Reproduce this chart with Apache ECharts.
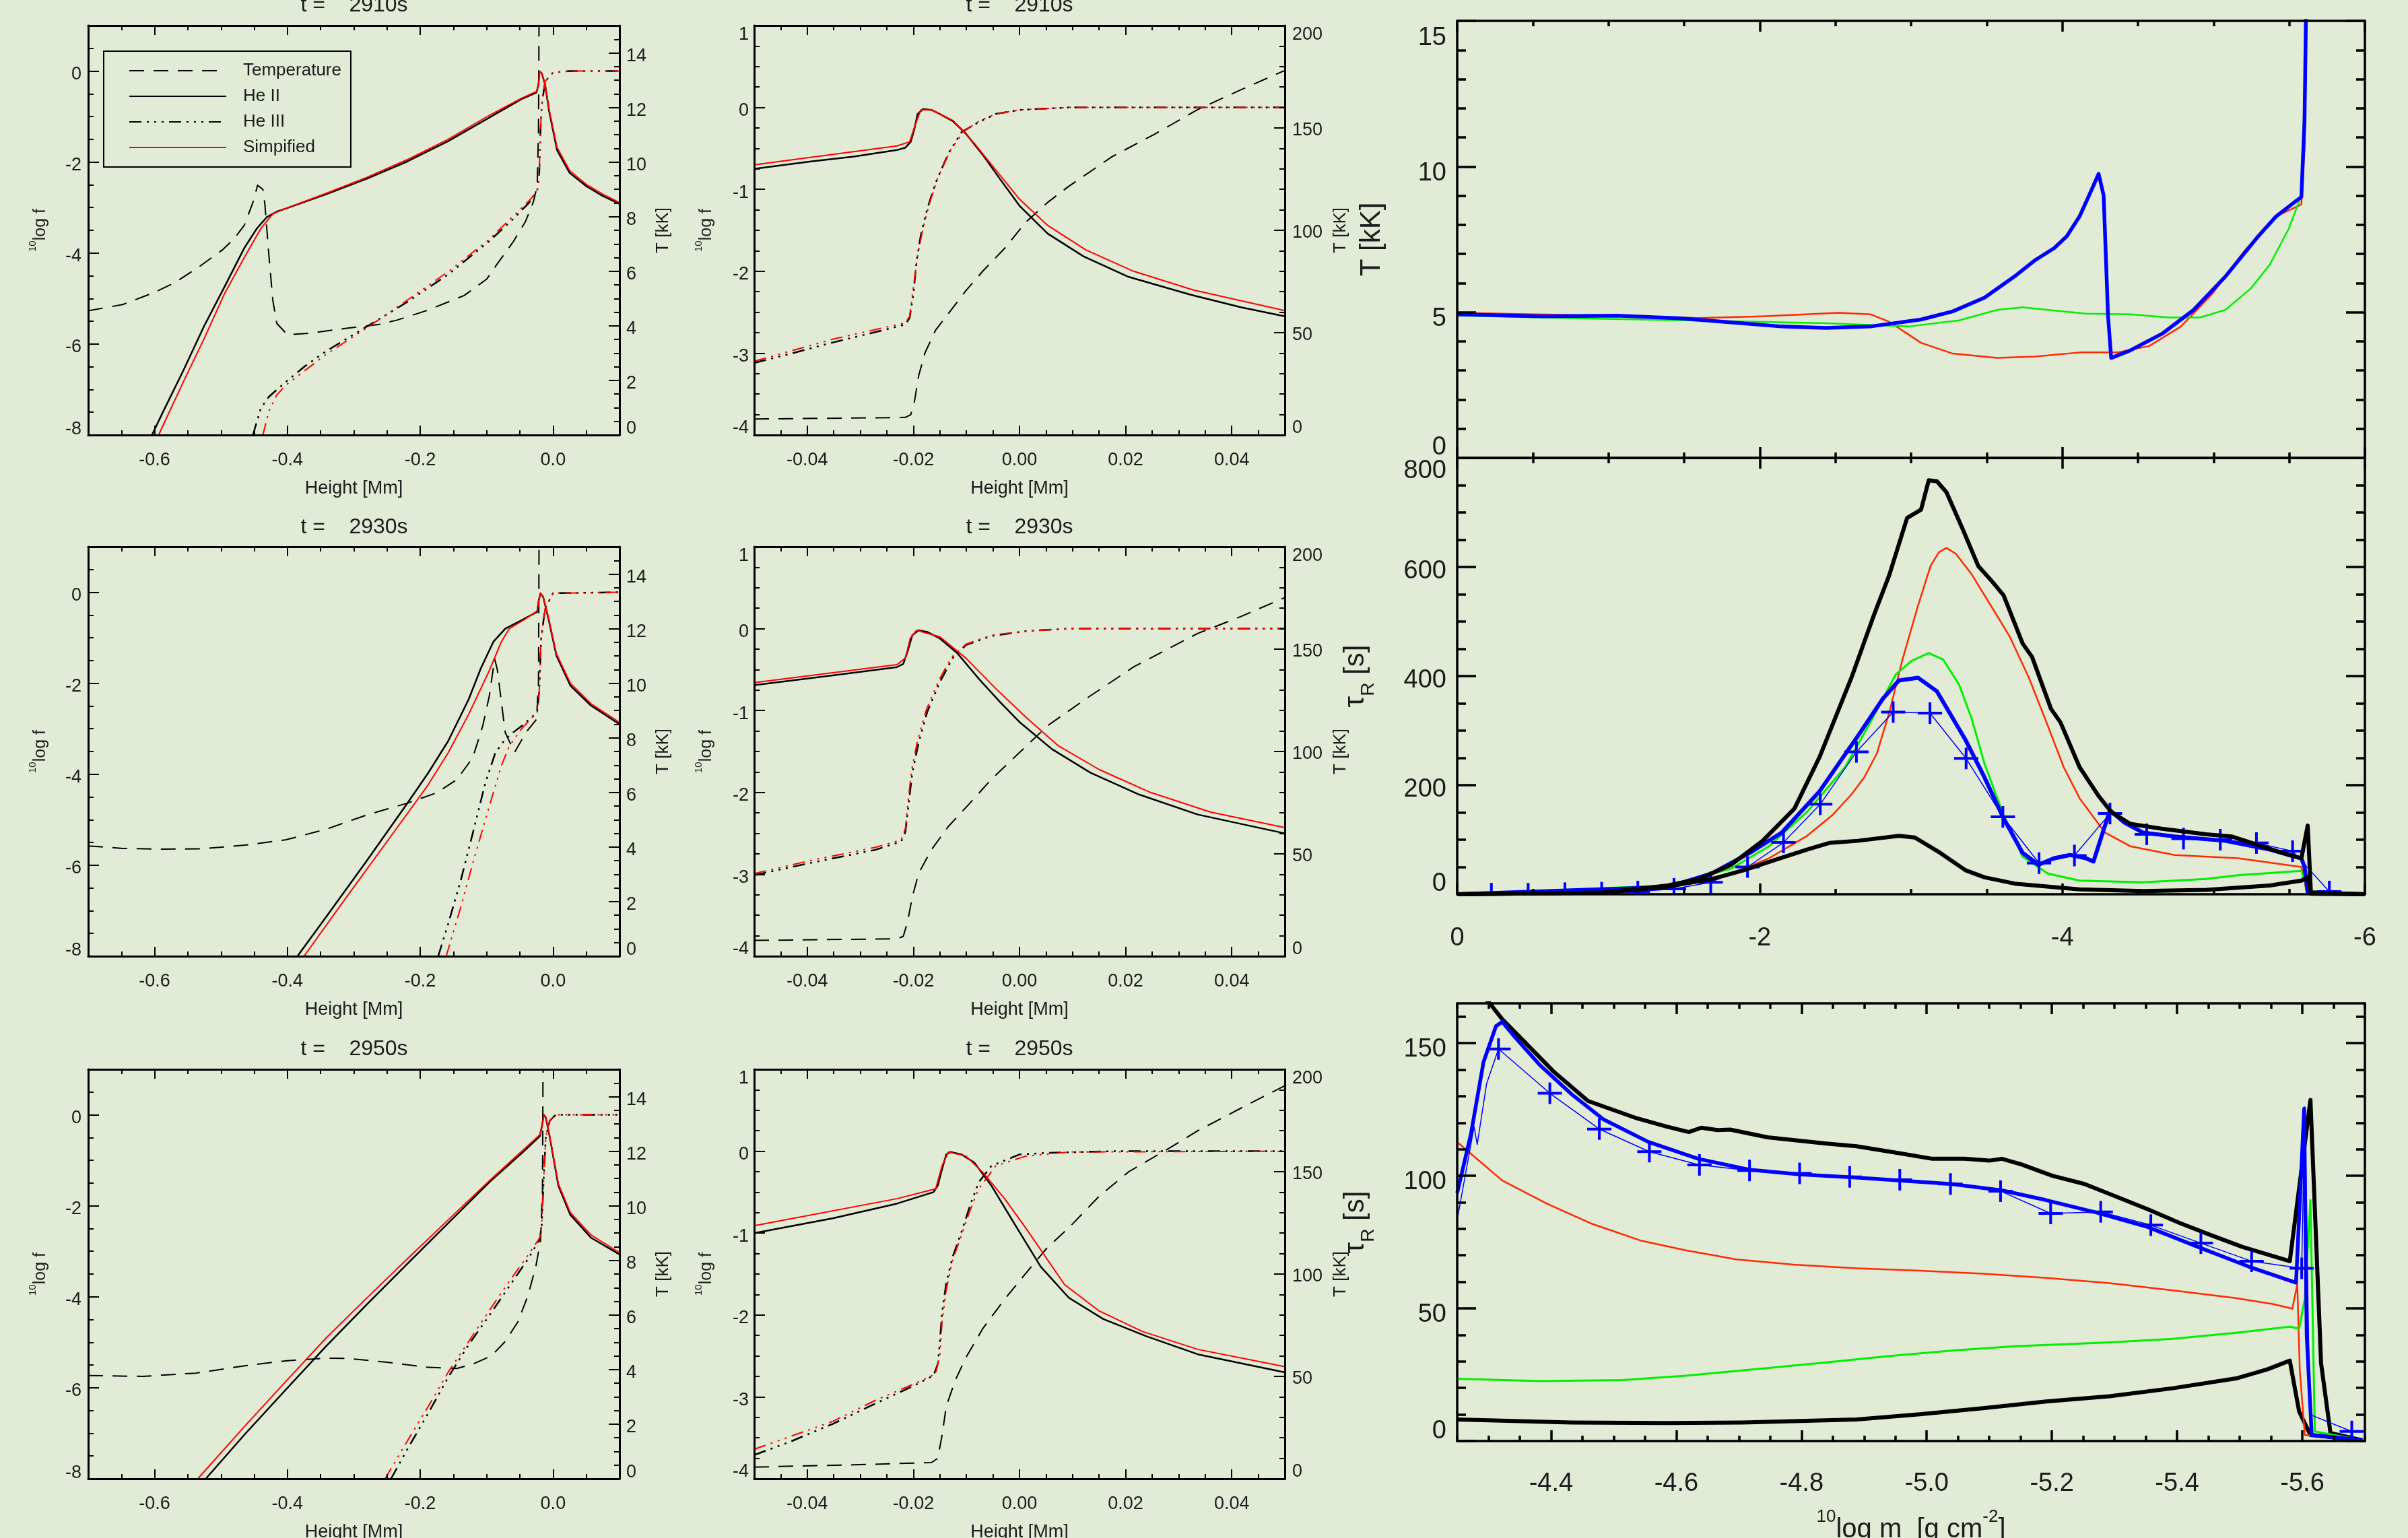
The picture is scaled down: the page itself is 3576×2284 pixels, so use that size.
<!DOCTYPE html>
<html><head><meta charset="utf-8">
<script src="https://cdn.jsdelivr.net/npm/echarts@6/dist/echarts.min.js"></script>
<style>html,body{margin:0;padding:0;background:#e1ebd6;}#c{width:3576px;height:2284px;}</style>
</head><body><div id="c"></div>
<script>
// ---------------- DATA ----------------
const titles = ['t =    2910s', 't =    2930s', 't =    2950s'];
const legendNames = ['Temperature', 'He II', 'He III', 'Simpified'];

// Left column (Height -0.7..0.1 Mm): [height, value]
const T_2910_L = [[-0.70,4.55],[-0.648,4.78],[-0.60,5.23],[-0.569,5.59],[-0.532,6.18],[-0.498,6.78],[-0.48,7.2],[-0.465,7.68],[-0.452,8.52],[-0.445,9.15],[-0.437,9.0],[-0.434,8.46],[-0.428,6.6],[-0.422,4.93],[-0.416,4.09],[-0.40,3.67],[-0.367,3.73],[-0.311,3.91],[-0.262,4.05],[-0.235,4.21],[-0.189,4.57],[-0.134,5.11],[-0.10,5.71],[-0.085,6.24],[-0.06,7.08],[-0.042,7.8],[-0.03,8.52],[-0.024,9.11],[-0.022,11.1],[-0.021,16],[-0.02,30]];
const HeII_2910_L = [[-0.604,-8],[-0.587,-7.48],[-0.557,-6.59],[-0.526,-5.62],[-0.495,-4.75],[-0.465,-3.89],[-0.446,-3.46],[-0.431,-3.21],[-0.416,-3.09],[-0.40,-3.01],[-0.342,-2.71],[-0.281,-2.37],[-0.22,-1.99],[-0.158,-1.54],[-0.097,-1.03],[-0.048,-0.62],[-0.025,-0.47],[-0.022,-0.30],[-0.0205,-0.01],[-0.017,-0.05],[-0.012,-0.30],[-0.006,-0.88],[0.006,-1.74],[0.025,-2.24],[0.05,-2.53],[0.074,-2.74],[0.10,-2.92]];
const HeIIs_2910_L = [[-0.594,-8],[-0.557,-6.84],[-0.526,-5.9],[-0.495,-4.9],[-0.465,-4.1],[-0.44,-3.46],[-0.422,-3.14],[-0.403,-3.02],[-0.342,-2.69],[-0.281,-2.34],[-0.22,-1.95],[-0.158,-1.5],[-0.097,-0.98],[-0.048,-0.6],[-0.025,-0.45],[-0.022,-0.3],[-0.0205,-0.01],[-0.017,-0.05],[-0.012,-0.28],[-0.006,-0.84],[0.006,-1.68],[0.025,-2.19],[0.05,-2.49],[0.074,-2.70],[0.10,-2.89]];
const HeIII_2910_L = [[-0.452,-8],[-0.44,-7.41],[-0.428,-7.16],[-0.403,-6.84],[-0.373,-6.48],[-0.342,-6.16],[-0.281,-5.62],[-0.22,-5.08],[-0.158,-4.47],[-0.097,-3.75],[-0.06,-3.25],[-0.036,-2.89],[-0.024,-2.64],[-0.021,-2.31],[-0.019,-1.31],[-0.017,-0.73],[-0.012,-0.23],[0.0,-0.03],[0.025,0],[0.10,0]];
const HeIIIs_2910_L = [[-0.437,-8],[-0.428,-7.48],[-0.416,-7.12],[-0.403,-6.91],[-0.342,-6.23],[-0.281,-5.65],[-0.22,-5.04],[-0.158,-4.41],[-0.097,-3.71],[-0.036,-2.85],[-0.024,-2.64],[-0.021,-2.31],[-0.019,-1.31],[-0.017,-0.73],[-0.012,-0.23],[0.0,-0.03],[0.025,0],[0.10,0]];

const T_2930_L = [[-0.70,4.04],[-0.648,3.95],[-0.587,3.92],[-0.526,3.94],[-0.464,4.07],[-0.403,4.26],[-0.342,4.65],[-0.28,5.18],[-0.219,5.61],[-0.176,5.98],[-0.145,6.47],[-0.121,7.27],[-0.106,8.43],[-0.096,9.54],[-0.088,10.9],[-0.084,10.5],[-0.072,8.19],[-0.058,7.47],[-0.041,8.19],[-0.025,8.68],[-0.022,10],[-0.021,16],[-0.02,30]];
const HeII_2930_L = [[-0.385,-8],[-0.342,-7.14],[-0.28,-5.89],[-0.219,-4.63],[-0.188,-3.97],[-0.158,-3.27],[-0.127,-2.35],[-0.109,-1.68],[-0.09,-1.09],[-0.072,-0.80],[-0.047,-0.61],[-0.024,-0.43],[-0.022,-0.21],[-0.019,-0.02],[-0.015,-0.10],[-0.007,-0.58],[0.005,-1.39],[0.026,-2.05],[0.057,-2.49],[0.10,-2.9]];
const HeIIs_2930_L = [[-0.375,-8],[-0.311,-6.7],[-0.25,-5.48],[-0.188,-4.23],[-0.158,-3.53],[-0.127,-2.68],[-0.096,-1.72],[-0.078,-1.09],[-0.066,-0.8],[-0.041,-0.58],[-0.024,-0.41],[-0.022,-0.21],[-0.019,-0.02],[-0.015,-0.10],[-0.007,-0.55],[0.005,-1.35],[0.026,-2.0],[0.057,-2.45],[0.10,-2.86]];
const HeIII_2930_L = [[-0.173,-8],[-0.158,-7.29],[-0.139,-6.33],[-0.121,-5.3],[-0.102,-4.19],[-0.087,-3.53],[-0.072,-3.23],[-0.06,-3.08],[-0.044,-2.9],[-0.024,-2.64],[-0.021,-2.2],[-0.018,-1.02],[-0.012,-0.35],[0.0,-0.02],[0.1,0]];
const HeIIIs_2930_L = [[-0.161,-8],[-0.139,-6.92],[-0.121,-5.96],[-0.096,-4.7],[-0.078,-3.82],[-0.066,-3.38],[-0.047,-2.99],[-0.024,-2.64],[-0.021,-2.2],[-0.018,-1.02],[-0.012,-0.35],[0.0,-0.02],[0.1,0]];

const T_2950_L = [[-0.70,3.78],[-0.618,3.75],[-0.538,3.87],[-0.464,4.14],[-0.403,4.32],[-0.342,4.42],[-0.311,4.41],[-0.25,4.27],[-0.188,4.08],[-0.145,4.04],[-0.121,4.2],[-0.093,4.5],[-0.072,5.03],[-0.053,5.75],[-0.038,6.7],[-0.026,7.77],[-0.019,8.72],[-0.016,10.5],[-0.015,16],[-0.014,30]];
const HeII_2950_L = [[-0.523,-8],[-0.464,-7.02],[-0.403,-6.05],[-0.342,-5.09],[-0.28,-4.16],[-0.219,-3.27],[-0.158,-2.38],[-0.096,-1.48],[-0.047,-0.84],[-0.02,-0.47],[-0.017,-0.27],[-0.014,0],[-0.011,-0.06],[-0.005,-0.49],[0.008,-1.56],[0.026,-2.2],[0.057,-2.7],[0.10,-3.07]];
const HeIIs_2950_L = [[-0.535,-8],[-0.464,-6.84],[-0.403,-5.87],[-0.342,-4.91],[-0.28,-4.02],[-0.219,-3.16],[-0.158,-2.31],[-0.096,-1.45],[-0.02,-0.44],[-0.017,-0.26],[-0.014,0],[-0.011,-0.06],[-0.005,-0.47],[0.008,-1.52],[0.026,-2.15],[0.057,-2.64],[0.10,-3.03]];
const HeIII_2950_L = [[-0.244,-8],[-0.219,-7.34],[-0.188,-6.56],[-0.158,-5.77],[-0.127,-5.05],[-0.096,-4.41],[-0.066,-3.77],[-0.036,-3.13],[-0.02,-2.73],[-0.017,-2.41],[-0.014,-1.34],[-0.011,-0.49],[-0.005,-0.13],[0.004,0],[0.10,0]];
const HeIIIs_2950_L = [[-0.253,-8],[-0.219,-7.16],[-0.188,-6.41],[-0.158,-5.66],[-0.127,-4.98],[-0.096,-4.3],[-0.066,-3.66],[-0.036,-3.05],[-0.02,-2.7],[-0.017,-2.41],[-0.014,-1.34],[-0.011,-0.49],[-0.005,-0.13],[0.004,0],[0.10,0]];

// Middle column (Height -0.05..0.05 Mm)
const T_2910_M = [[-0.05,7.8],[-0.0312,8.3],[-0.0215,8.6],[-0.0205,9.9],[-0.0198,16.3],[-0.019,29],[-0.0178,40.2],[-0.0158,51.3],[-0.0134,59.3],[-0.0101,70.5],[-0.0069,80.1],[-0.0028,91.2],[0.0012,104],[0.0053,113.6],[0.0093,121.5],[0.0174,135.9],[0.0255,147],[0.0336,159],[0.0417,168.6],[0.05,178.1]];
const HeII_2910_M = [[-0.05,-0.75],[-0.0393,-0.66],[-0.0312,-0.60],[-0.0231,-0.52],[-0.0215,-0.49],[-0.0205,-0.42],[-0.0198,-0.26],[-0.0192,-0.08],[-0.0182,-0.02],[-0.0166,-0.03],[-0.015,-0.08],[-0.0125,-0.17],[-0.0101,-0.32],[-0.0069,-0.58],[-0.0036,-0.88],[0.0,-1.2],[0.0053,-1.54],[0.0121,-1.82],[0.0206,-2.07],[0.0324,-2.29],[0.0417,-2.44],[0.05,-2.55]];
const HeIIs_2910_M = [[-0.05,-0.70],[-0.0231,-0.47],[-0.0207,-0.42],[-0.0198,-0.24],[-0.0186,-0.03],[-0.0166,-0.03],[-0.0125,-0.16],[-0.0085,-0.44],[-0.0045,-0.76],[0.0,-1.12],[0.0053,-1.44],[0.0125,-1.74],[0.0215,-2.0],[0.0328,-2.23],[0.05,-2.48]];
const HeIII_2910_M = [[-0.05,-3.12],[-0.0433,-3.01],[-0.0352,-2.87],[-0.0263,-2.73],[-0.0215,-2.65],[-0.0207,-2.57],[-0.02,-2.28],[-0.0194,-1.88],[-0.0186,-1.56],[-0.0174,-1.24],[-0.0158,-0.92],[-0.0134,-0.56],[-0.0109,-0.30],[-0.0077,-0.18],[-0.0045,-0.08],[0.0,-0.03],[0.0093,0],[0.05,0]];
const HeIIIs_2910_M = [[-0.05,-3.10],[-0.0352,-2.83],[-0.0215,-2.63],[-0.0207,-2.55],[-0.02,-2.2],[-0.0192,-1.8],[-0.0182,-1.48],[-0.017,-1.18],[-0.0154,-0.86],[-0.013,-0.52],[-0.0105,-0.29],[-0.0077,-0.17],[-0.0045,-0.08],[0.0,-0.03],[0.0093,0],[0.05,0]];

const T_2930_M = [[-0.05,7.7],[-0.0231,8.5],[-0.0219,9.7],[-0.0211,16.7],[-0.0202,29],[-0.019,40.5],[-0.0166,52],[-0.0134,63.4],[-0.0093,74.9],[-0.0053,86.4],[0.0,99.5],[0.0053,112.6],[0.0125,125.7],[0.0215,141.3],[0.0336,157.7],[0.0417,165.9],[0.05,175.2]];
const HeII_2930_M = [[-0.05,-0.69],[-0.0352,-0.57],[-0.0231,-0.47],[-0.0219,-0.43],[-0.0211,-0.28],[-0.0202,-0.08],[-0.019,-0.02],[-0.0174,-0.04],[-0.015,-0.12],[-0.0117,-0.30],[-0.0077,-0.61],[-0.0036,-0.90],[0.0,-1.14],[0.0061,-1.47],[0.0134,-1.76],[0.0223,-2.02],[0.0336,-2.27],[0.05,-2.5]];
const HeIIs_2930_M = [[-0.05,-0.66],[-0.0231,-0.44],[-0.0215,-0.36],[-0.0206,-0.12],[-0.0194,-0.02],[-0.015,-0.10],[-0.0101,-0.36],[-0.0045,-0.73],[0.0012,-1.08],[0.0073,-1.43],[0.015,-1.72],[0.0247,-2.0],[0.036,-2.24],[0.05,-2.43]];
const HeIII_2930_M = [[-0.05,-3.01],[-0.0393,-2.86],[-0.0271,-2.70],[-0.0223,-2.60],[-0.0215,-2.48],[-0.0208,-2.09],[-0.0202,-1.76],[-0.019,-1.39],[-0.0174,-1.02],[-0.015,-0.65],[-0.0126,-0.36],[-0.0101,-0.20],[-0.0053,-0.09],[0.0012,-0.03],[0.0093,0],[0.05,0]];
const HeIIIs_2930_M = [[-0.05,-2.99],[-0.0393,-2.83],[-0.0271,-2.67],[-0.0223,-2.58],[-0.0215,-2.44],[-0.0209,-2.05],[-0.0203,-1.72],[-0.0192,-1.36],[-0.0176,-1.0],[-0.0152,-0.63],[-0.0128,-0.35],[-0.0101,-0.19],[-0.0053,-0.08],[0.0012,-0.03],[0.0093,0],[0.05,0]];

const T_2950_M = [[-0.05,5.7],[-0.0312,6.8],[-0.0166,7.9],[-0.0154,10],[-0.0146,21.1],[-0.0138,35.4],[-0.0121,48.1],[-0.0101,59.2],[-0.0069,73.4],[-0.0028,87.7],[0.0012,100.4],[0.0053,113.1],[0.0093,122.6],[0.015,138],[0.0206,150],[0.0279,161],[0.0336,170],[0.0417,181],[0.05,192]];
const HeII_2950_M = [[-0.05,-1.0],[-0.0352,-0.82],[-0.0231,-0.64],[-0.0162,-0.50],[-0.0154,-0.42],[-0.0146,-0.22],[-0.0138,-0.04],[-0.013,-0.01],[-0.0109,-0.04],[-0.0085,-0.14],[-0.0053,-0.42],[-0.0012,-0.86],[0.004,-1.41],[0.0093,-1.79],[0.0158,-2.05],[0.0239,-2.26],[0.0336,-2.48],[0.05,-2.7]];
const HeIIs_2950_M = [[-0.05,-0.91],[-0.0231,-0.58],[-0.0158,-0.46],[-0.0146,-0.18],[-0.0134,-0.01],[-0.0101,-0.06],[-0.0069,-0.26],[-0.0028,-0.58],[0.0012,-0.94],[0.0085,-1.63],[0.015,-1.95],[0.0231,-2.2],[0.0336,-2.42],[0.05,-2.63]];
const HeIII_2950_M = [[-0.05,-3.71],[-0.0433,-3.55],[-0.0352,-3.33],[-0.0271,-3.08],[-0.0198,-2.86],[-0.0162,-2.74],[-0.0154,-2.6],[-0.015,-2.32],[-0.0146,-1.97],[-0.0138,-1.61],[-0.0126,-1.29],[-0.0109,-0.98],[-0.0093,-0.66],[-0.0077,-0.38],[-0.0053,-0.18],[0.0,-0.04],[0.0053,-0.02],[0.0174,0],[0.05,0]];
const HeIIIs_2950_M = [[-0.05,-3.64],[-0.0352,-3.3],[-0.0271,-3.04],[-0.0198,-2.84],[-0.0158,-2.72],[-0.015,-2.48],[-0.0146,-2.09],[-0.0138,-1.69],[-0.0126,-1.33],[-0.0109,-1.02],[-0.0093,-0.72],[-0.0077,-0.46],[-0.0045,-0.18],[0.0012,-0.06],[0.0093,-0.01],[0.05,0]];

// Right column: [log m, value]
const Tm_red = [[0,4.98],[-0.972,4.88],[-1.6,4.8],[-2.02,4.86],[-2.52,4.98],[-2.73,4.93],[-2.857,4.67],[-3.066,3.95],[-3.276,3.58],[-3.569,3.43],[-3.821,3.48],[-4.114,3.62],[-4.365,3.62],[-4.574,3.84],[-4.784,4.51],[-4.994,5.65],[-5.203,7.1],[-5.413,8.29],[-5.58,8.7],[-5.601,10.6],[-5.614,15],[-5.62,20]];
const Tm_green = [[0,4.88],[-0.972,4.77],[-1.81,4.69],[-2.438,4.62],[-2.983,4.51],[-3.318,4.72],[-3.569,5.08],[-3.737,5.17],[-3.904,5.08],[-4.156,4.95],[-4.449,4.93],[-4.7,4.82],[-4.91,4.82],[-5.077,5.08],[-5.245,5.81],[-5.371,6.63],[-5.497,7.87],[-5.58,9.01],[-5.614,15],[-5.62,20]];
const Tm_blue = [[0,4.93],[-0.553,4.86],[-1.056,4.88],[-1.475,4.79],[-1.81,4.65],[-2.145,4.51],[-2.438,4.46],[-2.73,4.51],[-3.066,4.75],[-3.276,5.03],[-3.486,5.5],[-3.695,6.27],[-3.821,6.79],[-3.946,7.2],[-4.03,7.61],[-4.114,8.29],[-4.177,9.01],[-4.24,9.75],[-4.273,9.01],[-4.302,4.88],[-4.323,3.43],[-4.449,3.69],[-4.659,4.26],[-4.868,5.08],[-5.077,6.22],[-5.287,7.56],[-5.413,8.29],[-5.58,8.96],[-5.601,11.6],[-5.61,15],[-5.615,20]];

const tau_black_hi = [[0,0],[-0.972,3],[-1.391,16],[-1.6,28],[-1.81,54],[-2.019,98],[-2.229,157],[-2.396,252],[-2.606,397],[-2.752,510],[-2.857,586],[-2.974,690],[-3.066,705],[-3.117,759],[-3.171,757],[-3.234,737],[-3.339,671],[-3.444,602],[-3.528,576],[-3.612,548],[-3.737,460],[-3.8,435],[-3.925,340],[-3.988,315],[-4.114,233],[-4.24,180],[-4.323,151],[-4.449,129],[-4.659,120],[-4.952,110],[-5.119,106],[-5.287,91],[-5.497,72],[-5.58,66],[-5.622,126],[-5.643,3],[-6,0]];
const tau_black_lo = [[0,0],[-0.972,3],[-1.391,14],[-1.684,28],[-1.894,44],[-2.103,63],[-2.313,82],[-2.459,94],[-2.648,98],[-2.92,107],[-3.025,104],[-3.192,76],[-3.36,44],[-3.486,31],[-3.695,19],[-4.114,9],[-4.533,6],[-4.952,8],[-5.371,16],[-5.58,25],[-5.622,31],[-5.643,1],[-6,0]];
const tau_red = [[0,0],[-1.391,13],[-1.81,38],[-2.061,66],[-2.313,107],[-2.48,145],[-2.606,183],[-2.69,214],[-2.774,258],[-2.857,334],[-2.941,428],[-3.046,529],[-3.129,602],[-3.184,627],[-3.234,635],[-3.297,624],[-3.402,586],[-3.528,529],[-3.653,472],[-3.779,397],[-3.904,309],[-4.009,233],[-4.114,176],[-4.282,113],[-4.449,88],[-4.742,72],[-5.161,66],[-5.58,50],[-5.614,6],[-6,0]];
const tau_green = [[0,0],[-1.391,16],[-1.81,47],[-2.061,88],[-2.313,151],[-2.564,233],[-2.731,315],[-2.899,403],[-3.004,428],[-3.117,442],[-3.213,430],[-3.318,384],[-3.402,321],[-3.486,239],[-3.612,145],[-3.737,69],[-3.904,38],[-4.114,25],[-4.533,22],[-4.952,28],[-5.161,35],[-5.58,43],[-5.622,6],[-6,0]];
const tau_blue = [[0,0],[-1.391,13],[-1.684,38],[-1.935,76],[-2.145,113],[-2.396,189],[-2.648,290],[-2.815,359],[-2.92,392],[-3.046,397],[-3.171,372],[-3.36,283],[-3.486,214],[-3.612,139],[-3.737,76],[-3.842,54],[-3.946,66],[-4.051,72],[-4.156,66],[-4.206,60],[-4.26,107],[-4.315,154],[-4.407,132],[-4.533,113],[-4.742,106],[-5.077,98],[-5.371,82],[-5.58,66],[-5.601,50],[-5.622,3],[-6,0]];
const tau_marks = [[-0.226,1],[-0.469,1],[-0.712,2],[-0.955,3],[-1.194,5],[-1.433,10],[-1.676,22],[-1.919,50],[-2.157,95],[-2.4,165],[-2.639,261],[-2.882,334],[-3.125,332],[-3.364,249],[-3.607,142],[-3.846,57],[-4.08,71],[-4.315,148],[-4.558,110],[-4.801,102],[-5.044,100],[-5.283,94],[-5.522,79],[-5.765,5],[-6.0,0]];

const taub_black_hi = [[-4.25,178],[-4.302,165],[-4.322,159],[-4.353,151.6],[-4.403,139.5],[-4.459,128.2],[-4.534,121.9],[-4.585,118.5],[-4.62,116.5],[-4.64,118.1],[-4.666,117.2],[-4.686,117.4],[-4.746,114.5],[-4.837,112.2],[-4.888,111.1],[-4.959,108.4],[-5.009,106.4],[-5.06,106.4],[-5.1,105.7],[-5.12,106.4],[-5.151,104.3],[-5.201,100],[-5.252,96.9],[-5.302,92.2],[-5.353,87.4],[-5.403,82.3],[-5.453,77.7],[-5.504,73.2],[-5.58,67.8],[-5.613,128.6],[-5.63,29.3],[-5.645,3],[-5.696,0.3]];
const taub_black_lo = [[-4.25,8.1],[-4.433,7],[-4.585,6.8],[-4.706,7],[-4.888,8.1],[-4.989,10.1],[-5.09,12.4],[-5.191,14.9],[-5.292,16.9],[-5.393,19.9],[-5.494,23.6],[-5.544,27],[-5.58,30.3],[-5.595,11.1],[-5.613,2.3],[-5.696,0.3]];
const taub_red = [[-4.25,112.7],[-4.322,98.2],[-4.393,89.5],[-4.464,82],[-4.544,75.5],[-4.615,71.9],[-4.696,68.5],[-4.787,66.5],[-4.888,65.1],[-4.989,64.2],[-5.09,63.1],[-5.191,61.5],[-5.292,59.5],[-5.393,56.8],[-5.494,53.9],[-5.554,51.6],[-5.584,49.9],[-5.592,59],[-5.596,26.6],[-5.604,2.3],[-5.696,0.3]];
const taub_green = [[-4.25,23.5],[-4.383,22.6],[-4.514,23],[-4.615,24.6],[-4.736,27.3],[-4.837,29.6],[-4.938,32],[-5.039,34.1],[-5.14,35.7],[-5.292,37.2],[-5.393,38.5],[-5.494,40.8],[-5.58,43.1],[-5.595,42.4],[-5.604,53.6],[-5.613,90.8],[-5.62,3.6],[-5.696,0.3]];
const taub_blue = [[-4.25,93.5],[-4.272,115.8],[-4.292,142.8],[-4.312,156.4],[-4.322,158],[-4.342,152.3],[-4.383,141.5],[-4.433,130.7],[-4.484,121.2],[-4.555,112.8],[-4.635,106.4],[-4.716,102.3],[-4.797,100.5],[-4.888,99.3],[-4.959,98.2],[-5.039,96.9],[-5.12,94.5],[-5.191,90.8],[-5.272,86.1],[-5.353,80.7],[-5.433,73.2],[-5.514,65.8],[-5.59,59.7],[-5.603,125.3],[-5.607,40],[-5.615,2.3],[-5.696,0.3]];
const taub_thin = [[-4.251,84.7],[-4.277,118.5],[-4.282,111.8],[-4.297,134.7],[-4.316,147.8],[-4.398,131.1],[-4.477,117.6],[-4.557,109.1],[-4.637,104.1],[-4.717,102],[-4.797,100.9],[-4.877,99.6],[-4.957,98.5],[-5.038,96.9],[-5.118,94.2],[-5.198,85.8],[-5.278,86.4],[-5.358,81.4],[-5.438,74.6],[-5.519,67.8],[-5.599,65.1],[-5.604,126],[-5.612,10],[-5.679,3.6]];
const taub_marks = [[-4.316,147.8],[-4.398,131.1],[-4.477,117.6],[-4.557,109.1],[-4.637,104.1],[-4.717,102],[-4.797,100.9],[-4.877,99.6],[-4.957,98.5],[-5.038,96.9],[-5.118,94.2],[-5.198,85.8],[-5.278,86.4],[-5.358,81.4],[-5.438,74.6],[-5.519,67.8],[-5.599,65.1],[-5.679,3.6]];

// ---------------- STYLE / BUILD ----------------
const BG = '#e1ebd6';
const FONT = 'Liberation Sans, Arial, sans-serif';
const TXT = '#1c1c1c';
const RED = '#ff0000', RED2 = '#ff2a00', GREEN = '#00f000', BLUE = '#0000ff';
const DASH_T = [22, 14];
const DASH_HE3 = [18, 8, 3, 8, 3, 8, 3, 8];

function rng(a, b, s) { const o = []; const n = Math.round((b - a) / s); for (let i = 0; i <= n; i++) o.push(+(a + i * s).toFixed(6)); return o; }

const option = { backgroundColor: BG, animation: false, textStyle: { fontFamily: FONT },
  grid: [], xAxis: [], yAxis: [], series: [], graphic: [] };

function labelFmt(S) {
  const lo = Math.min.apply(null, S.labels), hi = Math.max.apply(null, S.labels);
  return function (v) {
    const t = S.fmt(v);
    if (!S.sh) return t;
    if (Math.abs(v - lo) < 1e-9) return '{lo|' + t + '}';
    if (Math.abs(v - hi) < 1e-9) return '{hi|' + t + '}';
    return '{md|' + t + '}';
  };
}

function mkAxis(gi, pos, S, o) {
  const isX = (pos === 'bottom' || pos === 'top');
  const ax = {
    gridIndex: gi, type: 'value', position: pos, min: S.min, max: S.max, inverse: !!S.inverse,
    splitLine: { show: false }, splitArea: { show: false }, minorTick: { show: false }, minorSplitLine: { show: false },
    axisLine: { show: !!o.line, onZero: false, lineStyle: { color: '#000', width: S.lw } },
    axisTick: { show: true, inside: true, customValues: o.major ? S.major : S.minor,
      length: o.major ? S.tMaj : S.tMin, lineStyle: { color: '#000', width: S.tw } },
    axisLabel: { show: false }, axisPointer: { show: false }, silent: true, z: 10
  };
  if (o.label) {
    const base = { fontSize: S.fs, fontFamily: FONT, color: TXT };
    const rich = {};
    if (S.sh) {
      rich.lo = Object.assign({}, base, { padding: [0, 0, 2 * S.sh[0], 0] });
      rich.md = Object.assign({}, base, { padding: [2 * S.sh[1], 0, 0, 0] });
      rich.hi = Object.assign({}, base, { padding: [2 * S.sh[2], 0, 0, 0] });
    }
    ax.axisLabel = { show: true, customValues: S.labels, formatter: labelFmt(S), fontSize: S.fs, fontFamily: FONT,
      color: TXT, margin: S.margin, rich: rich, hideOverlap: false, showMinLabel: true, showMaxLabel: true };
  }
  if (o.name && S.name) {
    ax.name = S.name; ax.nameLocation = 'middle'; ax.nameGap = S.nameGap; ax.nameMoveOverlap = false;
    if (!isX) ax.nameRotate = 90;
    ax.nameTextStyle = { fontSize: S.nameFs, fontFamily: FONT, color: TXT, rich: S.nameRich || {} };
  }
  return ax;
}

function panel(box, SX, SYL, SYR, xLabel) {
  const gi = option.grid.length;
  option.grid.push({ left: box[0], top: box[1], width: box[2], height: box[3], containLabel: false, outerBoundsMode: 'none', show: false });
  const xb = option.xAxis.length, yb = option.yAxis.length;
  option.xAxis.push(mkAxis(gi, 'bottom', SX, { major: true, line: true, label: xLabel, name: xLabel }));
  option.xAxis.push(mkAxis(gi, 'bottom', SX, { major: false }));
  option.xAxis.push(mkAxis(gi, 'top', SX, { major: true, line: true }));
  option.xAxis.push(mkAxis(gi, 'top', SX, { major: false }));
  option.yAxis.push(mkAxis(gi, 'left', SYL, { major: true, line: true, label: true, name: true }));
  option.yAxis.push(mkAxis(gi, 'left', SYL, { major: false }));
  const R = SYR || SYL;
  option.yAxis.push(mkAxis(gi, 'right', R, { major: true, line: true, label: !!SYR, name: !!SYR }));
  option.yAxis.push(mkAxis(gi, 'right', R, { major: false }));
  return { x: xb, yl: yb, yr: yb + 2 };
}

function line(ax, yk, data, color, width, type, z, name) {
  option.series.push({ type: 'line', name: name, xAxisIndex: ax.x, yAxisIndex: ax[yk], data: data,
    showSymbol: false, symbol: 'none', smooth: false,
    lineStyle: { color: color, width: width, type: type || 'solid', cap: 'butt', join: 'round' },
    itemStyle: { color: color }, z: z || 2, clip: true, silent: true, animation: false, emphasis: { disabled: true } });
}
// "+" markers drawn via the axes' own coordinate conversion, clipped to the plot box
function marks(ax, data, z) {
  option.series.push({ type: 'custom', name: 'marks', xAxisIndex: ax.x, yAxisIndex: ax.yl, data: data,
    encode: { x: 0, y: 1 }, clip: true, silent: true, animation: false, z: z,
    renderItem: function (params, api) {
      const p = api.coord([api.value(0), api.value(1)]);
      return { type: 'group', children: [
        { type: 'rect', shape: { x: p[0] - 18, y: p[1] - 2, width: 36, height: 4 }, style: { fill: BLUE } },
        { type: 'rect', shape: { x: p[0] - 2, y: p[1] - 16, width: 4, height: 32 }, style: { fill: BLUE } }
      ] };
    } });
}

// scales
const supRich = { s: { fontSize: 15, fontFamily: FONT, color: TXT, verticalAlign: 'top', lineHeight: 32 },
                  m: { fontSize: 25, fontFamily: FONT, color: TXT, verticalAlign: 'bottom', lineHeight: 32 } };
const XL = { min: -0.7, max: 0.1, major: [-0.6, -0.4, -0.2, 0], minor: rng(-0.7, 0.1, 0.05), labels: [-0.6, -0.4, -0.2, 0],
  fmt: v => v.toFixed(1), fs: 27, margin: 24, lw: 3, tMaj: 14, tMin: 7, tw: 2,
  name: 'Height [Mm]', nameGap: 66, nameFs: 27 };
const XM = Object.assign({}, XL, { min: -0.05, max: 0.05, major: [-0.04, -0.02, 0, 0.02, 0.04], minor: rng(-0.05, 0.05, 0.005),
  labels: [-0.04, -0.02, 0, 0.02, 0.04], fmt: v => v.toFixed(2) });
const YLf = { min: -8, max: 1, major: [-8, -6, -4, -2, 0], minor: rng(-8, 1, 0.5), labels: [-8, -6, -4, -2, 0],
  fmt: v => String(v), fs: 27, margin: 10, lw: 3, tMaj: 16, tMin: 8, tw: 2, sh: [8, 5, 5],
  name: '{s|10}{m|log f}', nameGap: 58, nameFs: 25, nameRich: supRich };
const YLT = { min: 0, max: 15, major: rng(0, 14, 2), minor: rng(0, 15, 0.5), labels: rng(0, 14, 2),
  fmt: v => String(v), fs: 27, margin: 10, lw: 3, tMaj: 16, tMin: 8, tw: 2, sh: [9, 5, 5],
  name: 'T [kK]', nameGap: 52, nameFs: 26 };
const YMf = Object.assign({}, YLf, { min: -4, max: 1, major: [-4, -3, -2, -1, 0, 1], minor: rng(-4, 1, 0.25),
  labels: [-4, -3, -2, -1, 0, 1], margin: 8, sh: [10, 5, 14] });
const YMT = Object.assign({}, YLT, { min: 0, max: 200, major: [0, 50, 100, 150, 200], minor: rng(0, 200, 10),
  labels: [0, 50, 100, 150, 200], margin: 11, sh: [10, 4, 14], nameGap: 70 });

const XR = { min: -6, max: 0, inverse: true, major: [0, -2, -4, -6], minor: rng(-6, 0, 0.5), labels: [0, -2, -4, -6],
  fmt: v => String(v), fs: 38, margin: 47, lw: 3.5, tMaj: 16, tMin: 8, tw: 3.5 };
const XRB = { min: -5.7, max: -4.25, inverse: true, major: [-4.4, -4.6, -4.8, -5.0, -5.2, -5.4, -5.6], minor: rng(-5.7, -4.25, 0.05),
  labels: [-4.4, -4.6, -4.8, -5.0, -5.2, -5.4, -5.6], fmt: v => v.toFixed(1), fs: 38, margin: 45, lw: 3.5, tMaj: 16, tMin: 8, tw: 3.5,
  name: '{s|10}{m|log m  [g cm}{s|-2}{m|]}', nameGap: 100, nameFs: 40,
  nameRich: { s: { fontSize: 26, fontFamily: FONT, color: TXT, verticalAlign: 'top', lineHeight: 52 },
              m: { fontSize: 40, fontFamily: FONT, color: TXT, verticalAlign: 'bottom', lineHeight: 52 } } };
const tauRich = { t: { fontSize: 42, fontFamily: FONT, color: TXT, verticalAlign: 'top', lineHeight: 54 },
                  r: { fontSize: 28, fontFamily: FONT, color: TXT, verticalAlign: 'bottom', lineHeight: 54 } };
const YRtop = { min: 0, max: 15, major: [0, 5, 10, 15], minor: rng(0, 15, 1), labels: [0, 5, 10, 15],
  fmt: v => String(v), fs: 38, margin: 16, lw: 3.5, tMaj: 28, tMin: 13, tw: 3.5, sh: [15, 10, 26],
  name: 'T [kK]', nameGap: 106, nameFs: 42 };
const YRmid = Object.assign({}, YRtop, { max: 800, major: [0, 200, 400, 600, 800], minor: rng(0, 800, 50), labels: [0, 200, 400, 600, 800],
  sh: [15, 7, 20], name: '{t|τ}{r|R}{t| [s]}', nameGap: 118, nameRich: tauRich });
const YRbot = Object.assign({}, YRtop, { max: 165, major: [0, 50, 100, 150], minor: rng(0, 160, 10), labels: [0, 50, 100, 150],
  sh: [14, 9, 9], name: '{t|τ}{r|R}{t| [s]}', nameGap: 118, nameRich: tauRich });

// left + middle panels
const rowTops = [38, 812, 1588];
const leftSets = [[T_2910_L, HeII_2910_L, HeIII_2910_L, HeIIs_2910_L, HeIIIs_2910_L],
                  [T_2930_L, HeII_2930_L, HeIII_2930_L, HeIIs_2930_L, HeIIIs_2930_L],
                  [T_2950_L, HeII_2950_L, HeIII_2950_L, HeIIs_2950_L, HeIIIs_2950_L]];
const midSets = [[T_2910_M, HeII_2910_M, HeIII_2910_M, HeIIs_2910_M, HeIIIs_2910_M],
                 [T_2930_M, HeII_2930_M, HeIII_2930_M, HeIIs_2930_M, HeIIIs_2930_M],
                 [T_2950_M, HeII_2950_M, HeIII_2950_M, HeIIs_2950_M, HeIIIs_2950_M]];
function heliumSeries(ax, d) {
  line(ax, 'yr', d[0], '#000', 2, DASH_T, 2, 'Temperature');
  line(ax, 'yl', d[1], '#000', 2.5, 'solid', 3, 'He II');
  line(ax, 'yl', d[2], '#000', 2.5, DASH_HE3, 3, 'He III');
  line(ax, 'yl', d[3], RED, 2, 'solid', 4, 'Simpified');
  line(ax, 'yl', d[4], RED, 2, DASH_HE3, 4, 'Simpified He III');
}
const titleY = [8, 783, 1558];
for (let r = 0; r < 3; r++) {
  const axL = panel([131, rowTops[r], 789, 608], XL, YLf, YLT, true);
  heliumSeries(axL, leftSets[r]);
  const axM = panel([1120, rowTops[r], 788, 608], XM, YMf, YMT, true);
  heliumSeries(axM, midSets[r]);
  [526, 1514].forEach(cx => option.graphic.push({ type: 'text', x: cx, y: titleY[r], silent: true,
    style: { text: titles[r], fontSize: 32, fontFamily: FONT, fill: TXT, align: 'center', verticalAlign: 'middle',
      textAlign: 'center', textVerticalAlign: 'middle' } }));
}

// right panels
const axT = panel([2164, 31, 1348, 649], XR, YRtop, null, false);
line(axT, 'yl', Tm_red, RED2, 2.5, 'solid', 3, 'r');
line(axT, 'yl', Tm_green, GREEN, 2.5, 'solid', 4, 'g');
line(axT, 'yl', Tm_blue, BLUE, 5.5, 'solid', 5, 'b');

const axMd = panel([2164, 680, 1348, 648], XR, YRmid, null, true);
line(axMd, 'yl', tau_red, RED2, 2.5, 'solid', 3, 'r');
line(axMd, 'yl', tau_green, GREEN, 3, 'solid', 4, 'g');
line(axMd, 'yl', tau_blue, BLUE, 6, 'solid', 5, 'b');
line(axMd, 'yl', tau_marks, BLUE, 1.5, 'solid', 6, 'bt');
marks(axMd, tau_marks, 6);
line(axMd, 'yl', tau_black_hi, '#000', 6, 'solid', 8, 'k1');
line(axMd, 'yl', tau_black_lo, '#000', 6, 'solid', 8, 'k2');

const axB = panel([2164, 1490, 1348, 650], XRB, YRbot, null, true);
line(axB, 'yl', taub_black_hi, '#000', 6, 'solid', 2, 'k1');
line(axB, 'yl', taub_black_lo, '#000', 6, 'solid', 2, 'k2');
line(axB, 'yl', taub_red, RED2, 2.5, 'solid', 3, 'r');
line(axB, 'yl', taub_green, GREEN, 3, 'solid', 4, 'g');
line(axB, 'yl', taub_blue, BLUE, 5.5, 'solid', 5, 'b');
line(axB, 'yl', taub_thin, BLUE, 1.5, 'solid', 6, 'bt');
marks(axB, taub_marks, 7);

option.legend = { show: true, data: legendNames, orient: 'vertical', left: 154, top: 76,
  padding: [14, 14, 14, 37], itemWidth: 144, itemHeight: 14, itemGap: 8, borderColor: '#000', borderWidth: 2,
  selectedMode: false, itemStyle: { opacity: 0 },
  textStyle: { fontSize: 26, fontFamily: FONT, color: TXT, padding: [0, 0, 0, 20], lineHeight: 30 }, z: 20 };

const chart = echarts.init(document.getElementById('c'), null, { renderer: 'canvas', width: 3576, height: 2284 });
chart.setOption(option);
</script></body></html>
